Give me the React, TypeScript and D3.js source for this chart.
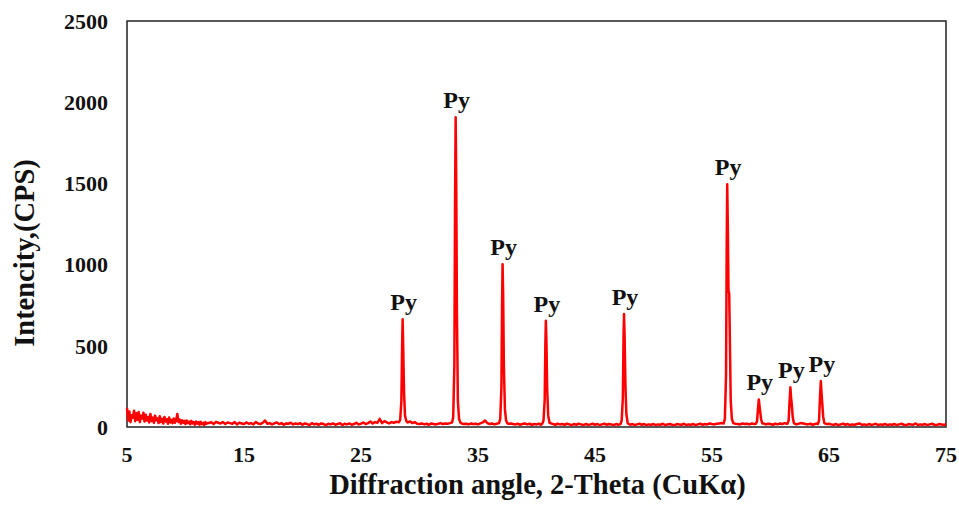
import * as d3 from "d3"

// XRD scan background counts (CPS): fine 0.1° steps for 5.0–11.9°, then 0.2° steps for 12.0–75.0°
const LOW_START = 5
const LOW_STEP = 0.1
const BACKGROUND_LOW = [
  118, 40, 96, 30, 72, 58, 100, 36, 84, 44,
  92, 30, 70, 52, 88, 34, 76, 40, 62, 28,
  80, 36, 58, 26, 70, 42, 54, 24, 66, 30,
  50, 22, 62, 34, 48, 20, 58, 28, 44, 24,
  52, 26, 40, 80, 30, 46, 20, 42, 26, 38,
  18, 40, 24, 34, 16, 38, 22, 30, 14, 34,
  20, 30, 14, 32, 18, 26, 12, 30, 20, 24,
]
const HIGH_START = 12
const HIGH_STEP = 0.2
const BACKGROUND = [
  24, 30, 18, 32, 26, 22, 30, 18, 28, 24, 20, 30, 16, 26, 22,
  18, 28, 20, 24, 16, 30, 22, 18, 26, 40, 20, 24, 16, 22, 28, 18, 24, 14, 22, 20, 26, 16, 22, 18, 24,
  14, 22, 18, 12, 24, 16, 20, 14, 22, 18, 12, 20, 16, 22, 14, 18, 24, 12, 20, 16, 22, 14, 18, 26, 16,
  20, 28, 18, 24, 34, 22, 30, 26, 50, 24, 36, 28, 22, 30, 26, 32, 30, 34, 36, 30, 28, 34, 24, 30, 20,
  18, 22, 16, 20, 14, 22, 18, 16, 20, 24, 18, 22, 20, 24, 26, 28, 30, 24, 22, 18, 20, 16, 22, 18, 20,
  16, 22, 28, 40, 24, 18, 22, 16, 20, 18, 22, 24, 26, 20, 22, 18, 16, 20, 14, 18, 22, 16, 20, 14, 18,
  16, 20, 14, 18, 20, 22, 24, 18, 14, 20, 16, 18, 14, 20, 16, 12, 18, 14, 20, 16, 12, 18, 14, 16, 20,
  14, 18, 12, 16, 20, 14, 18, 16, 12, 18, 14, 20, 16, 18, 22, 14, 18, 12, 16, 20, 14, 18, 12, 16, 14,
  18, 12, 16, 14, 20, 12, 16, 18, 14, 12, 18, 16, 14, 20, 12, 16, 14, 18, 12, 16, 20, 14, 18, 16, 22,
  18, 16, 20, 22, 24, 18, 26, 28, 30, 24, 20, 18, 16, 22, 18, 20, 16, 22, 18, 20, 24, 18, 22, 16, 20,
  18, 14, 20, 16, 22, 18, 24, 20, 26, 22, 18, 16, 20, 24, 22, 18, 16, 20, 14, 18, 22, 20, 24, 22, 18,
  20, 16, 14, 18, 12, 16, 20, 14, 18, 12, 16, 14, 18, 22, 14, 16, 12, 18, 14, 16, 20, 12, 16, 14, 18,
  12, 16, 14, 18, 12, 16, 20, 14, 12, 18, 16, 14, 22, 12, 16, 14, 18, 12, 16, 20, 14, 12, 18, 16, 14,
  16,
]

// pyrite reflections, [2θ, CPS]
const PEAK_28 = [[28.25, 30], [28.35, 45], [28.45, 160], [28.52, 520], [28.56, 663], [28.61, 480], [28.68, 210], [28.76, 70], [28.88, 35]]
const PEAK_33 = [[32.78, 28], [32.88, 60], [32.98, 380], [33.04, 1400], [33.09, 1907], [33.14, 1500], [33.2, 700], [33.28, 160], [33.38, 50], [33.5, 26]]
const PEAK_37 = [[36.8, 24], [36.9, 50], [37.0, 240], [37.06, 780], [37.1, 1002], [37.15, 820], [37.21, 380], [37.3, 110], [37.4, 40], [37.52, 22]]
const PEAK_41 = [[40.5, 22], [40.6, 40], [40.7, 170], [40.76, 520], [40.8, 654], [40.85, 520], [40.91, 240], [41.0, 70], [41.12, 24]]
const PEAK_47 = [[47.18, 18], [47.28, 40], [47.38, 180], [47.44, 560], [47.48, 696], [47.53, 560], [47.6, 260], [47.68, 80], [47.8, 22]]
const PEAK_56 = [[56.0, 22], [56.1, 50], [56.2, 320], [56.26, 1150], [56.3, 1494], [56.35, 1250], [56.41, 840], [56.47, 825], [56.53, 520], [56.6, 160], [56.7, 50], [56.82, 24]]
const PEAK_59 = [[58.75, 20], [58.85, 35], [58.94, 120], [59.0, 170], [59.06, 130], [59.12, 95], [59.2, 45], [59.3, 22]]
const PEAK_62 = [[61.45, 20], [61.55, 40], [61.64, 170], [61.7, 244], [61.76, 180], [61.82, 140], [61.9, 60], [62.0, 24]]
const PEAK_64 = [[64.05, 18], [64.15, 40], [64.24, 200], [64.3, 283], [64.36, 210], [64.42, 150], [64.5, 65], [64.6, 24]]

const PEAKS = [PEAK_28, PEAK_33, PEAK_37, PEAK_41, PEAK_47, PEAK_56, PEAK_59, PEAK_62, PEAK_64]
const PEAK_LABEL = "Py"

const X_TICKS = [5, 15, 25, 35, 45, 55, 65, 75]
const Y_TICKS = [0, 500, 1000, 1500, 2000, 2500]

const W = 959
const H = 506
const M = { left: 127, right: 13, top: 21, bottom: 79 }
const FONT = "'Liberation Serif', 'Times New Roman', serif"

export default function App() {
  const x = d3.scaleLinear().domain([5, 75]).range([M.left, W - M.right])
  const y = d3.scaleLinear().domain([0, 2500]).range([H - M.bottom, M.top])

  const inPeak = (a: number) => PEAKS.some((p) => a >= p[0][0] && a <= p[p.length - 1][0])
  const low = BACKGROUND_LOW.map((v, i) => [LOW_START + i * LOW_STEP, v])
  const high = BACKGROUND.map((v, i) => [HIGH_START + i * HIGH_STEP, v])
  const background = [...low, ...high].filter((d) => !inPeak(d[0]))
  const points = [...background, ...PEAKS.flat()].sort((a, b) => a[0] - b[0])

  const line = d3.line<number[]>().x((d) => x(d[0])).y((d) => y(d[1]))

  const tops = PEAKS.map((p) => p.reduce((m, d) => (d[1] > m[1] ? d : m)))

  return (
    <svg width={W} height={H} style={{ position: "absolute", left: 0, top: 0, background: "white" }} fontFamily={FONT} fontWeight="bold">
      <rect x={M.left} y={M.top} width={W - M.left - M.right} height={H - M.top - M.bottom} fill="none" stroke="#222" strokeWidth={1.5} />

      <path d={line(points) ?? ""} fill="none" stroke="#ff0000" strokeWidth={2.5} strokeLinejoin="round" />

      {tops.map((d, i) => (
        <text key={i} x={x(d[0]) + 1} y={y(d[1]) - 9} textAnchor="middle" fontSize={24} fill="#111">
          {PEAK_LABEL}
        </text>
      ))}

      {Y_TICKS.map((t) => (
        <text key={t} x={108} y={y(t)} dy="0.35em" textAnchor="end" fontSize={22} fill="#111">
          {t}
        </text>
      ))}
      {X_TICKS.map((t) => (
        <text key={t} x={x(t)} y={462} textAnchor="middle" fontSize={22} fill="#111">
          {t}
        </text>
      ))}

      <text x={(M.left + W - M.right) / 2 + 1} y={494} textAnchor="middle" fontSize={28.5} fill="#111">
        Diffraction angle, 2-Theta (CuKα)
      </text>
      <text transform="translate(34,253) rotate(-90)" textAnchor="middle" fontSize={28.5} fill="#111">
        Intencity,(CPS)
      </text>
    </svg>
  )
}
